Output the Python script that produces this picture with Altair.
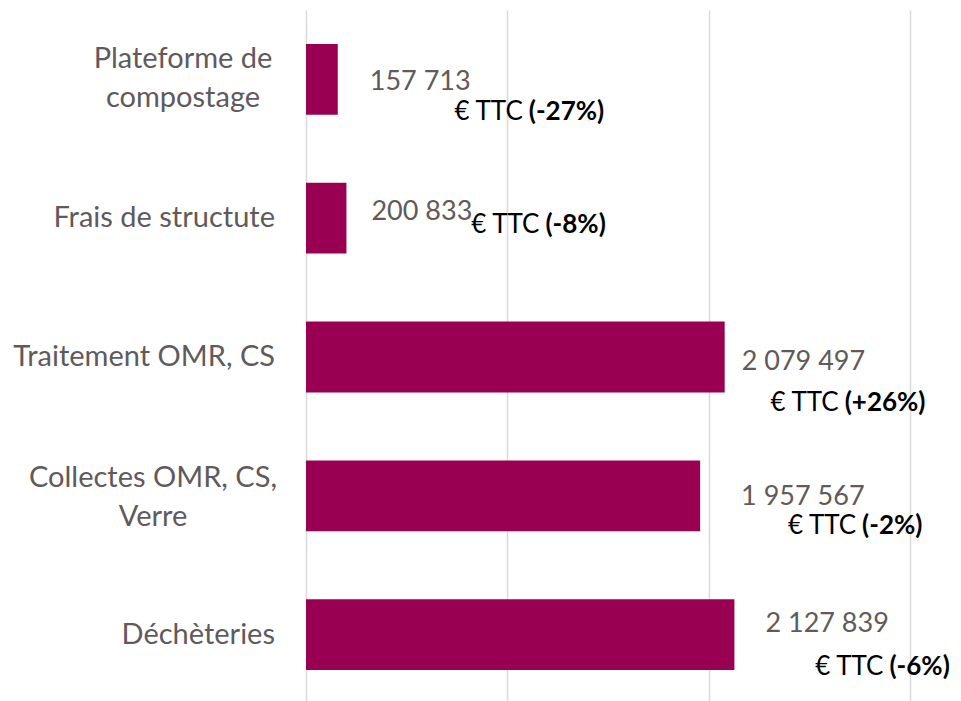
import altair as alt
import pandas as pd

# ---- data ----
categories = ["Plateforme de compostage", "Frais de structute", "Traitement OMR, CS",
              "Collectes OMR, CS, Verre", "Déchèteries"]
values = [157713, 200833, 2079497, 1957567, 2127839]
changes = ["(-27%)", "(-8%)", "(+26%)", "(-2%)", "(-6%)"]
unit_text = "€ TTC"

# category label lines as wrapped in the original
category_lines = [["Plateforme de", "compostage"],
                  ["Frais de structute"],
                  ["Traitement OMR, CS"],
                  ["Collectes OMR, CS,", "Verre"],
                  ["Déchèteries"]]

# ---- label placement (pixels), the original's labels were placed by hand ----
cat_align = ["center", "right", "right", "center", "right"]
cat_dx = [-123, -31, -31, -153, -31]
cat_dy = [-11, 9, 9, -9, 9]
num_dx = [32, 25, 17, 41, 31]
num_dy = [11, 2, 13, 9, -3]
unit_dx = [191, 199, 120, 162, 155]   # start of the bold part
unit_dy = [41, 15, 54, 38, 40]

BAR = "#9A0052"
GREY = "#605A5C"
FONT = "Lato"

df = pd.DataFrame({
    "category": categories,
    "cat_label": ["|".join(l) for l in category_lines],
    "value": values,
    "value_text": [f"{v:,}".replace(",", " ") for v in values],
    "change": changes,
    "unit": [unit_text] * len(values),
})

y_enc = alt.Y("category:N", sort=None, title=None,
              scale=alt.Scale(paddingInner=0.49, paddingOuter=0.245),
              axis=None)
x_enc = alt.X("value:Q", title=None,
              scale=alt.Scale(domain=[0, 3000000], nice=False),
              axis=alt.Axis(values=[0, 1000000, 2000000, 3000000], labels=False, ticks=False,
                            domain=False, grid=True, gridColor="#D9D9D9", gridWidth=1.5))
y_plain = alt.Y("category:N", sort=None)

base = alt.Chart(df)
layers = [base.mark_bar(color=BAR).encode(x=x_enc, y=y_enc)]

for i, cat in enumerate(categories):
    row = base.transform_filter(alt.datum.category == cat)
    layers.append(row.mark_text(align=cat_align[i], baseline="alphabetic", dx=cat_dx[i], dy=cat_dy[i],
                                lineBreak="|", lineHeight=39,
                                font=FONT, fontSize=29, color=GREY)
                  .encode(x=alt.value(0), y=y_plain, text="cat_label:N"))
    layers.append(row.mark_text(align="left", baseline="alphabetic", dx=num_dx[i], dy=num_dy[i],
                                font=FONT, fontSize=27, color=GREY)
                  .encode(x="value:Q", y=y_plain, text="value_text:N"))
    layers.append(row.mark_text(align="right", baseline="alphabetic", dx=unit_dx[i] - 6, dy=unit_dy[i],
                                font=FONT, fontSize=26, color="#000000")
                  .encode(x="value:Q", y=y_plain, text="unit:N"))
    layers.append(row.mark_text(align="left", baseline="alphabetic", dx=unit_dx[i], dy=unit_dy[i],
                                font=FONT, fontSize=26, fontWeight="bold", color="#000000")
                  .encode(x="value:Q", y=y_plain, text="change:N"))

chart = alt.layer(*layers).properties(
    width=604, height=694,
    autosize=alt.AutoSizeParams(type="none"),
    padding={"left": 298, "top": 2, "right": 43, "bottom": 0},
).configure_view(stroke=None)

chart.save("out.html", embed_options={"renderer": "svg", "actions": False})
